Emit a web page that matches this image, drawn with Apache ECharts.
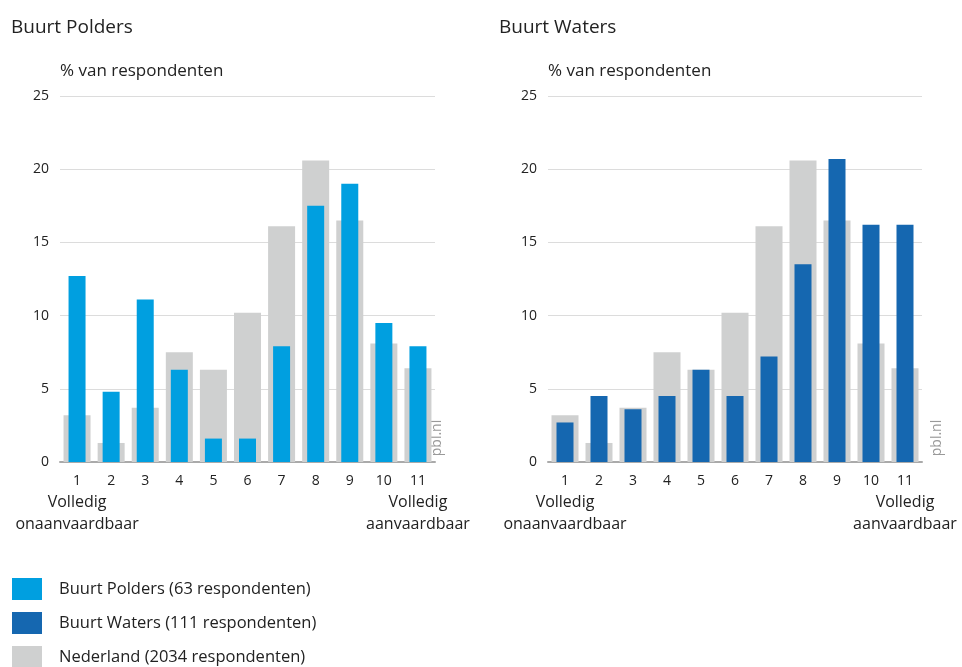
<!DOCTYPE html>
<html>
<head>
<meta charset="utf-8">
<script src="https://cdn.jsdelivr.net/npm/echarts@6/dist/echarts.min.js"></script>
<style>
  html, body { margin: 0; padding: 0; background: #fff; }
  #chart { width: 962px; height: 667px; }
</style>
</head>
<body>
<div id="chart"></div>
<script>
// schaal 1 (volledig onaanvaardbaar) t/m 11 (volledig aanvaardbaar)
var categories = ['1', '2', '3', '4', '5', '6', '7', '8', '9', '10', '11'];
var yTicks = [0, 5, 10, 15, 20, 25];

// % van respondenten
var nederland = [3.2, 1.3, 3.7, 7.5, 6.3, 10.2, 16.1, 20.6, 16.5, 8.1, 6.4];
var polders = [12.7, 4.8, 11.1, 6.3, 1.6, 1.6, 7.9, 17.5, 19.0, 9.5, 7.9];
var waters = [2.7, 4.5, 3.6, 4.5, 6.3, 4.5, 7.2, 13.5, 20.7, 16.2, 16.2];

var nameNL = 'Nederland (2034 respondenten)';
var namePolders = 'Buurt Polders (63 respondenten)';
var nameWaters = 'Buurt Waters (111 respondenten)';

var font = '"Open Sans", Lato, sans-serif';
var grey = '#cfd0d0';
var lightBlue = '#009fe0';
var darkBlue = '#1567b0';

function xLabel(val) {
  if (val === '1') return '{n|1}\n{t|Volledig}\n{t|onaanvaardbaar}';
  if (val === '11') return '{n|11}\n{t|Volledig}\n{t|aanvaardbaar}';
  return '{n|' + val + '}';
}

function mainX(gridIndex) {
  return {
    type: 'category', gridIndex: gridIndex, data: categories,
    axisLine: { lineStyle: { color: '#aaaaaa', width: 2 } },
    axisTick: { show: false },
    axisLabel: {
      interval: 0, margin: 9, formatter: xLabel,
      rich: {
        n: { fontFamily: font, fontSize: 14, color: '#222', lineHeight: 20 },
        t: { fontFamily: font, fontSize: 16, color: '#222', lineHeight: 22 }
      }
    }
  };
}
function overlayX(gridIndex) {
  return {
    type: 'category', gridIndex: gridIndex, data: categories,
    show: false
  };
}
function yAx(gridIndex) {
  return {
    type: 'value', gridIndex: gridIndex, min: 0, max: 25, interval: 5,
    name: '% van respondenten', nameLocation: 'end', nameGap: 16,
    nameTextStyle: { fontFamily: font, fontSize: 17, color: '#222', align: 'left' },
    axisLine: { show: false }, axisTick: { show: false },
    axisLabel: {
      margin: 11, color: '#222', fontFamily: font, fontSize: 14,
      formatter: function (v) { return yTicks.indexOf(v) >= 0 ? String(v) : ''; }
    },
    splitLine: { lineStyle: { color: '#dcdcdc', width: 1 } }
  };
}
function legendRow(name, top) {
  return {
    orient: 'vertical', left: 7, top: top, padding: 5,
    itemWidth: 30, itemHeight: 22, icon: 'rect',
    data: [name],
    textStyle: { fontFamily: font, fontSize: 16.5, color: '#222', padding: [0, 0, 0, 12] }
  };
}

var chart = echarts.init(document.getElementById('chart'));
chart.setOption({
  animation: false,
  textStyle: { fontFamily: font },
  title: [
    { text: 'Buurt Polders', left: 6, top: 13, textStyle: { fontFamily: font, fontSize: 19, fontWeight: 'normal', color: '#222' } },
    { text: 'Buurt Waters', left: 494, top: 13, textStyle: { fontFamily: font, fontSize: 19, fontWeight: 'normal', color: '#222' } }
  ],
  grid: [
    { left: 60, right: 527, top: 96, bottom: 205 },
    { left: 548, right: 40, top: 96, bottom: 205 }
  ],
  xAxis: [mainX(0), overlayX(0), mainX(1), overlayX(1)],
  yAxis: [yAx(0), yAx(1)],
  legend: [
    legendRow(namePolders, 573),
    legendRow(nameWaters, 607),
    legendRow(nameNL, 641)
  ],
  series: [
    { name: nameNL, type: 'bar', xAxisIndex: 0, yAxisIndex: 0, data: nederland, barWidth: 27, itemStyle: { color: grey } },
    { name: namePolders, type: 'bar', xAxisIndex: 1, yAxisIndex: 0, data: polders, barWidth: 17, itemStyle: { color: lightBlue } },
    { name: nameNL, type: 'bar', xAxisIndex: 2, yAxisIndex: 1, data: nederland, barWidth: 27, itemStyle: { color: grey } },
    { name: nameWaters, type: 'bar', xAxisIndex: 3, yAxisIndex: 1, data: waters, barWidth: 17, itemStyle: { color: darkBlue } }
  ],
  graphic: [
    { type: 'text', x: 437, y: 438, rotation: Math.PI / 2, style: { text: 'pbl.nl', fill: '#999', font: '14px ' + font, align: 'center', verticalAlign: 'middle' } },
    { type: 'text', x: 937, y: 438, rotation: Math.PI / 2, style: { text: 'pbl.nl', fill: '#999', font: '14px ' + font, align: 'center', verticalAlign: 'middle' } }
  ]
});
</script>
</body>
</html>
